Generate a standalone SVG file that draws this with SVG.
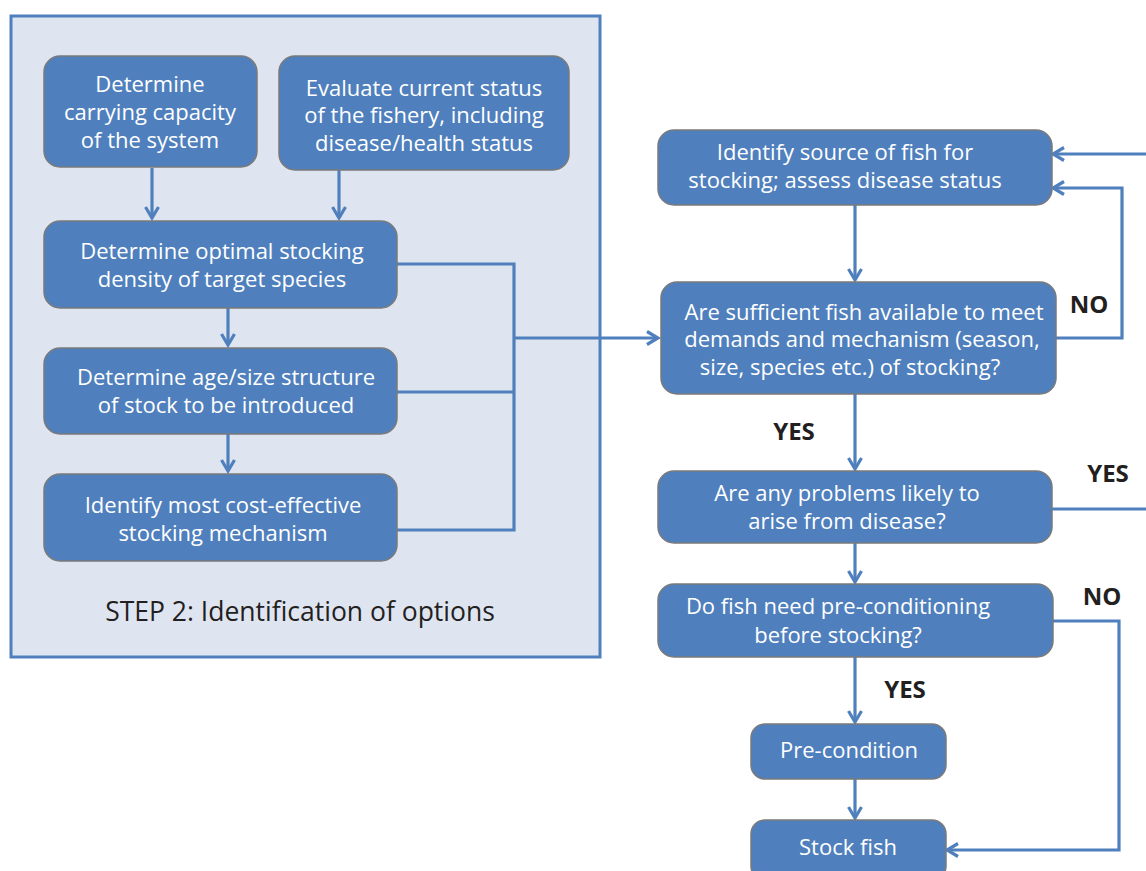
<svg xmlns="http://www.w3.org/2000/svg" width="1146" height="871" viewBox="0 0 1146 871">
<defs>
<style>
.node{fill:#4f80bd;stroke:#7a7a7a;stroke-width:1.5}
.t{font-family:"Open Sans","Noto Sans",sans-serif;font-size:22px;fill:#ffffff;text-anchor:middle}
.lbl{font-family:"Open Sans","Noto Sans",sans-serif;font-size:24px;font-weight:bold;fill:#231f20;text-anchor:middle}
.cap{font-family:"Open Sans","Noto Sans",sans-serif;font-size:26.5px;fill:#231f20;text-anchor:middle}
.c{fill:none;stroke:#4f80bd;stroke-width:3.2}
</style>
<marker id="ah" viewBox="0 0 16 16" refX="13" refY="8" markerWidth="16" markerHeight="16" markerUnits="userSpaceOnUse" orient="auto">
<path d="M2,1.5 L13,8 L2,14.5" fill="none" stroke="#4f80bd" stroke-width="3.2"/>
</marker>
</defs>
<rect width="1146" height="871" fill="#ffffff"/>
<g id="panel">
<rect x="11" y="16" width="589" height="641" fill="#dfe5f0" stroke="#4f80bd" stroke-width="3"/>
<text class="cap" x="300" y="621">STEP 2: Identification of options</text>
</g>
<g id="connectors">
<path class="c" d="M152,168 V218" marker-end="url(#ah)"/>
<path class="c" d="M339,170 V218" marker-end="url(#ah)"/>
<path class="c" d="M228,308 V345" marker-end="url(#ah)"/>
<path class="c" d="M228,434 V471" marker-end="url(#ah)"/>
<path class="c" d="M397,264 H514 V530 H397"/>
<path class="c" d="M397,392 H514"/>
<path class="c" d="M514,338 H658" marker-end="url(#ah)"/>
<path class="c" d="M855,205 V280" marker-end="url(#ah)"/>
<path class="c" d="M1056,338 H1122 V188 H1053" marker-end="url(#ah)"/>
<path class="c" d="M1146,154 H1053" marker-end="url(#ah)"/>
<path class="c" d="M855,394 V469" marker-end="url(#ah)"/>
<path class="c" d="M1052,509 H1146"/>
<path class="c" d="M855,543 V582" marker-end="url(#ah)"/>
<path class="c" d="M855,657 V722" marker-end="url(#ah)"/>
<path class="c" d="M1053,621 H1119 V850 H947" marker-end="url(#ah)"/>
<path class="c" d="M855,779 V818" marker-end="url(#ah)"/>
</g>
<g id="labels">
<text class="lbl" x="1089" y="313">NO</text>
<text class="lbl" x="794" y="440">YES</text>
<text class="lbl" x="1108" y="482">YES</text>
<text class="lbl" x="1102" y="605">NO</text>
<text class="lbl" x="905" y="698">YES</text>
</g>
<g id="n1"><rect class="node" x="44" y="56" width="213" height="111" rx="16"/>
<text class="t" x="150" y="92">Determine</text><text class="t" x="150" y="120">carrying capacity</text><text class="t" x="150" y="148">of the system</text></g>
<g id="n2"><rect class="node" x="279" y="56" width="290" height="114" rx="16"/>
<text class="t" x="424" y="96">Evaluate current status</text><text class="t" x="424" y="123">of the fishery, including</text><text class="t" x="424" y="151">disease/health status</text></g>
<g id="n3"><rect class="node" x="44" y="221" width="353" height="87" rx="16"/>
<text class="t" x="222" y="259">Determine optimal stocking</text><text class="t" x="222" y="287">density of target species</text></g>
<g id="n4"><rect class="node" x="44" y="348" width="353" height="86" rx="16"/>
<text class="t" x="226" y="385">Determine age/size structure</text><text class="t" x="226" y="413">of stock to be introduced</text></g>
<g id="n5"><rect class="node" x="44" y="474" width="353" height="87" rx="16"/>
<text class="t" x="223" y="513">Identify most cost-effective</text><text class="t" x="223" y="541">stocking mechanism</text></g>
<g id="n6"><rect class="node" x="658" y="130" width="394" height="75" rx="16"/>
<text class="t" x="845" y="160">Identify source of fish for</text><text class="t" x="845" y="188">stocking; assess disease status</text></g>
<g id="n7"><rect class="node" x="661" y="282" width="395" height="112" rx="16"/>
<text class="t" x="864" y="320">Are sufficient fish available to meet</text><text class="t" x="862" y="347">demands and mechanism (season,</text><text class="t" x="850" y="375">size, species etc.) of stocking?</text></g>
<g id="n8"><rect class="node" x="658" y="471" width="394" height="72" rx="16"/>
<text class="t" x="847" y="501">Are any problems likely to</text><text class="t" x="847" y="529">arise from disease?</text></g>
<g id="n9"><rect class="node" x="658" y="584" width="395" height="73" rx="16"/>
<text class="t" x="838" y="614">Do fish need pre-conditioning</text><text class="t" x="838" y="643">before stocking?</text></g>
<g id="n10"><rect class="node" x="751" y="724" width="195" height="55" rx="14"/>
<text class="t" x="849" y="758">Pre-condition</text></g>
<g id="n11"><rect class="node" x="751" y="820" width="195" height="60" rx="14"/>
<text class="t" x="848" y="855">Stock fish</text></g>
</svg>
